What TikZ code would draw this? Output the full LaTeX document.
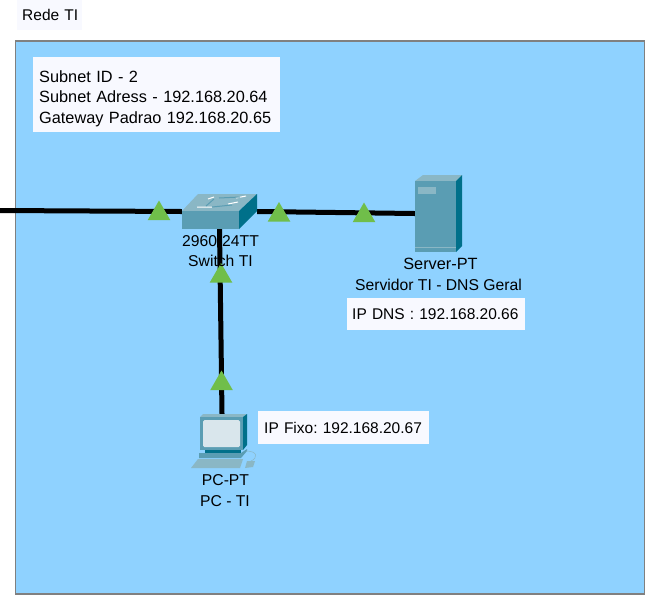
\documentclass[tikz,border=0pt]{standalone}
\usepackage{fontspec}
\setmainfont{Liberation Sans}
\usetikzlibrary{shapes,positioning}
\definecolor{areablue}{HTML}{8FD2FF}
\definecolor{boxwhite}{HTML}{F8F9FF}
\definecolor{linkgreen}{HTML}{70BE4A}
\definecolor{facemid}{HTML}{5A9DB3}
\definecolor{facetop}{HTML}{8AB7C5}
\definecolor{facedark}{HTML}{00708A}
\definecolor{screenlight}{HTML}{D9E6EC}
\tikzset{
  infobox/.style={fill=boxwhite,anchor=north west,align=left,inner ysep=0pt,font=\fontsize{15.5}{20.5}\selectfont},
  label/.style={inner sep=0pt,font=\fontsize{15.7}{18}\selectfont},
  link/.style={line width=5pt,black},
  linkup/.style={regular polygon,regular polygon sides=3,fill=linkgreen,minimum size=26pt,inner sep=0pt},
  device/.style={inner sep=0pt}
}
\begin{document}
\begin{tikzpicture}[x=1pt,y=-1pt]
    \useasboundingbox (0,0) rectangle (660,603);
    \node[infobox,text width=55pt,minimum height=30pt,inner xsep=5pt] (REDE) at (17,0) {Rede~TI};
    \node[draw=gray,line width=1.5pt,fill=areablue,minimum width=629pt,minimum height=553pt,anchor=north west,inner sep=0pt] (AREA) at (14.5,40) {};
    \node[infobox,font=\fontsize{16.3}{20.5}\selectfont,text width=235pt,minimum height=75pt,inner xsep=6pt] (SUBNET) at (33,57) {\rule{0pt}{19pt}Subnet ID - 2\\Subnet Adress - 192.168.20.64\\Gateway Padrao 192.168.20.65};

    \coordinate (WAN) at (0,210.5);
    \node[device,minimum width=75pt,minimum height=35pt] (SWITCH) at (219.5,211.5) {};
    \node[device,minimum width=47pt,minimum height=77pt] (SERVER) at (438.5,213.5) {};
    \node[device,minimum width=64pt,minimum height=54pt] (PC) at (222,441) {};

    \draw[link] (WAN) -- (SWITCH.west);
    \draw[link] (SWITCH.east) -- (SERVER.west);
    \draw[link] (SWITCH.south) -- (PC.north);

    % switch
    \fill[facetop] (182,211) -- (198,194) -- (257,194) -- (239,211) -- cycle;
    \fill[facemid] (182,211) rectangle (239,229);
    \fill[facedark] (239,211) -- (257,194) -- (257,211) -- (239,229) -- cycle;
    \draw[white,line width=1pt] (197,207) -- (212,207) (208,199) -- (214,197) (228,204) -- (238,202) (236,198) -- (246,196);
    \draw[facemid,line width=1pt] (206,206) -- (214,199) (219,198) -- (240,197) (212,207) -- (232,205);

    % server
    \fill[facetop] (415,181) -- (423,175) -- (462,175) -- (456,181) -- cycle;
    \fill[facemid] (415,181) rectangle (456,252);
    \fill[facedark] (456,181) -- (462,175) -- (462,246) -- (456,252) -- cycle;
    \fill[facetop] (418,187) rectangle (436,194);
    \draw[facetop,line width=0.6pt] (415,247) -- (456,247);

    % pc
    \fill[facetop] (200,417) -- (203,414) -- (247,414) -- (243,417) -- cycle;
    \fill[facemid] (200,417) rectangle (243,450);
    \fill[facedark] (243,417) -- (247,414) -- (247,445) -- (243,450) -- cycle;
    \fill[screenlight,rounded corners=1.5pt] (203,420) rectangle (240,447);
    \fill[facedark] (205,450) rectangle (241,453);
    \fill[facemid] (199,453) -- (241,453) -- (247,449) -- (247,451) -- (241,458) -- (199,458) -- cycle;
    \fill[facetop] (191,468) -- (198,459) -- (243,459) -- (240,468) -- cycle;
    \fill[facetop] (245,468) -- (247,461) -- (255,461) -- (253,467) -- cycle;
    \draw[facetop,line width=0.5pt] (246,451) .. controls (258,451) and (258,458) .. (251,461);

    \node[linkup] (L1) at (159,213.5) {};
    \node[linkup] (L2) at (279,215) {};
    \node[linkup] (L3) at (364,215.5) {};
    \node[linkup] (L4) at (221,276) {};
    \node[linkup] (L5) at (221.5,383.5) {};

    \node[label] (SWLABEL) at (220.5,241) {2960-24TT};
    \node[label] (SWNAME) at (220.5,261) {Switch TI};
    \node[label,font=\fontsize{16.3}{18}\selectfont] (SRVLABEL) at (440.5,264) {Server-PT};
    \node[label] (SRVNAME) at (438.5,285) {Servidor TI - DNS Geral};
    \node[label] (PCLABEL) at (225.5,480) {PC-PT};
    \node[label] (PCNAME) at (225,501.5) {PC - TI};

    \node[infobox,text width=168pt,minimum height=32pt,inner xsep=5pt] (IPDNS) at (347,298) {IP DNS : 192.168.20.66};
    \node[infobox,text width=159pt,minimum height=33pt,inner xsep=6pt] (IPFIXO) at (258,411) {IP~Fixo:~192.168.20.67};
\end{tikzpicture}
\end{document}
